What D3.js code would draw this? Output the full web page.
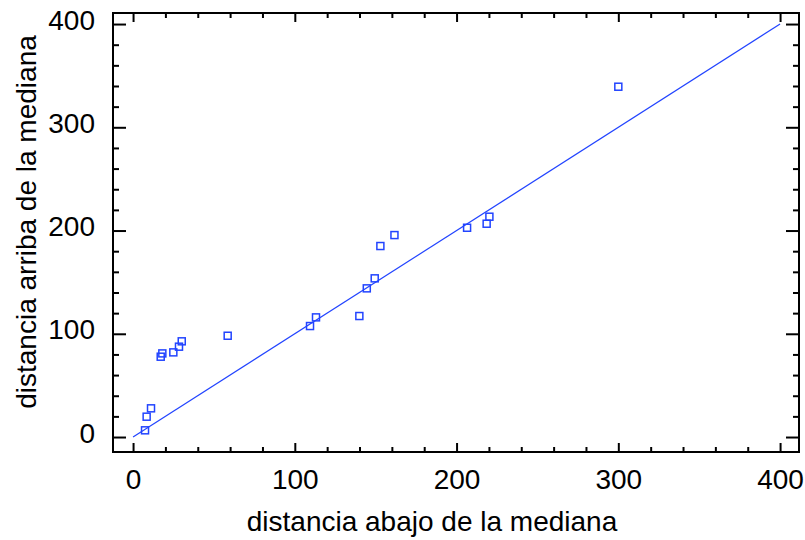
<!DOCTYPE html>
<html>
<head>
<meta charset="utf-8">
<script src="https://cdn.jsdelivr.net/npm/d3@7"></script>
<style>
  body { margin: 0; background: #fff; }
  svg { display: block; font-family: "Liberation Sans", Arial, sans-serif; }
</style>
</head>
<body>
<svg></svg>
<script>
// data
let xValues = [7.4, 8.4, 11.1, 17.1, 18.1, 24.9, 28.4, 30.1, 58.5, 109.4, 113.1, 139.9,
               144.5, 149.4, 152.9, 161.6, 206.5, 218.6, 220.3, 300.0]
let yValues = [6.5, 19.7, 27.8, 77.8, 81.0, 82.0, 87.5, 92.7, 98.1, 107.5, 115.9, 117.2,
               144.0, 153.7, 185.0, 195.6, 202.7, 206.6, 213.4, 339.3]
let lineX = [0, 400]
let lineY = [0, 400]
let xTicks = [0, 100, 200, 300, 400]
let yTicks = [0, 100, 200, 300, 400]
let xTitle = 'distancia abajo de la mediana'
let yTitle = 'distancia arriba de la mediana'

let width = 805
let height = 540
let plotLeft = 113, plotRight = 799, plotTop = 13, plotBottom = 452
let blue = '#2244ff'

let svg = d3.select('svg')
    .attr('width', width)
    .attr('height', height)

let xScale = d3.scaleLinear()
    .domain([-12.4, 411.7])
    .range([plotLeft, plotRight])

let yScale = d3.scaleLinear()
    .domain([-14.5, 410.7])
    .range([plotBottom, plotTop])

let minorX = d3.range(0, 401, 20).filter(d => !xTicks.includes(d))
let minorY = d3.range(0, 401, 20).filter(d => !yTicks.includes(d))

let styleAxis = (g) => {
    g.select('.domain').remove()
    g.selectAll('line').attr('stroke', '#000').attr('stroke-width', 2)
    g.selectAll('text')
        .attr('fill', '#000')
        .style('font-size', '28px')
        .style('font-family', '"Liberation Sans", Arial, sans-serif')
}

// left axis with labels
svg.append('g')
    .attr('transform', `translate(${plotLeft}, 0)`)
    .call(d3.axisLeft(yScale).tickValues(yTicks).tickSize(-13).tickPadding(18))
    .call(styleAxis)
    .selectAll('text').attr('dy', '0.18em')
svg.append('g')
    .attr('transform', `translate(${plotLeft}, 0)`)
    .call(d3.axisLeft(yScale).tickValues(minorY).tickSize(-6).tickFormat(''))
    .call(styleAxis)

// right axis, ticks only
svg.append('g')
    .attr('transform', `translate(${plotRight}, 0)`)
    .call(d3.axisRight(yScale).tickValues(yTicks).tickSize(-13).tickFormat(''))
    .call(styleAxis)
svg.append('g')
    .attr('transform', `translate(${plotRight}, 0)`)
    .call(d3.axisRight(yScale).tickValues(minorY).tickSize(-6).tickFormat(''))
    .call(styleAxis)

// bottom axis with labels
svg.append('g')
    .attr('transform', `translate(0, ${plotBottom})`)
    .call(d3.axisBottom(xScale).tickValues(xTicks).tickSize(-9).tickPadding(17))
    .call(styleAxis)
svg.append('g')
    .attr('transform', `translate(0, ${plotBottom})`)
    .call(d3.axisBottom(xScale).tickValues(minorX).tickSize(-5).tickFormat(''))
    .call(styleAxis)

// top axis, ticks only
svg.append('g')
    .attr('transform', `translate(0, ${plotTop})`)
    .call(d3.axisTop(xScale).tickValues(xTicks).tickSize(-9).tickFormat(''))
    .call(styleAxis)
svg.append('g')
    .attr('transform', `translate(0, ${plotTop})`)
    .call(d3.axisTop(xScale).tickValues(minorX).tickSize(-5).tickFormat(''))
    .call(styleAxis)

// frame
svg.append('rect')
    .attr('x', plotLeft)
    .attr('y', plotTop)
    .attr('width', plotRight - plotLeft)
    .attr('height', plotBottom - plotTop)
    .attr('fill', 'none')
    .attr('stroke', '#000')
    .attr('stroke-width', 2)

// reference line
svg.append('line')
    .attr('x1', xScale(lineX[0]))
    .attr('y1', yScale(lineY[0]))
    .attr('x2', xScale(lineX[1]))
    .attr('y2', yScale(lineY[1]))
    .attr('stroke', blue)
    .attr('stroke-width', 1.2)

// points as small open squares
let size = 7
svg.selectAll('rect.pt')
    .data(xValues)
    .enter()
    .append('rect')
    .attr('class', 'pt')
    .attr('x', (d) => xScale(d) - size / 2)
    .attr('y', (d, i) => yScale(yValues[i]) - size / 2)
    .attr('width', size)
    .attr('height', size)
    .attr('fill', 'none')
    .attr('stroke', blue)
    .attr('stroke-width', 1.5)

// axis titles
svg.append('text')
    .attr('x', 432)
    .attr('y', 531)
    .attr('text-anchor', 'middle')
    .style('font-size', '28px')
    .text(xTitle)

svg.append('text')
    .attr('transform', 'translate(36, 222) rotate(-90)')
    .attr('text-anchor', 'middle')
    .style('font-size', '28px')
    .text(yTitle)
</script>
</body>
</html>
